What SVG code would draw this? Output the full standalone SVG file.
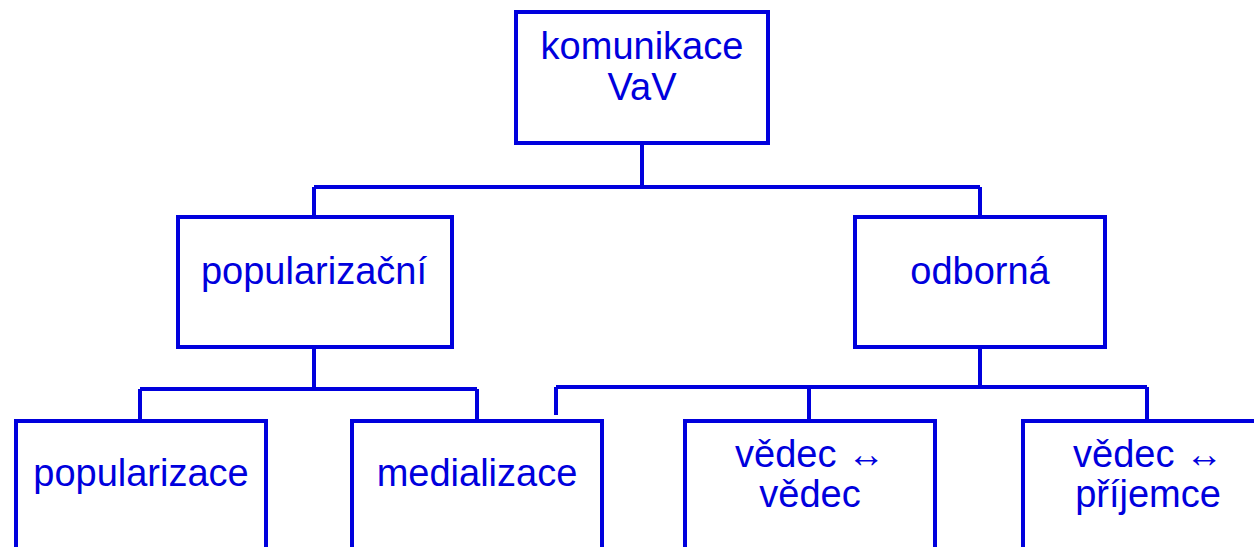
<svg xmlns="http://www.w3.org/2000/svg" width="1254" height="547" viewBox="0 0 1254 547">
<style>
.box{fill:#ffffff;stroke:#0000dd;stroke-width:4}
.ln{fill:none;stroke:#0000dd;stroke-width:4}
text{font-family:"Liberation Sans",Arial,sans-serif;font-size:38px;fill:#0000dd;text-anchor:middle}
</style>
<rect width="1254" height="547" fill="#ffffff"/>
<g id="connectors">
<path class="ln" d="M642 143V187M314 187H980M314 187V217M980 187V217"/>
<path class="ln" d="M314 347V389M140 389H477M140 389V421M477 389V421"/>
<path class="ln" d="M980 347V387M556 387H1147M556 387V415M809 387V421M1147 387V421"/>
</g>
<g id="n-root"><rect class="box" x="516" y="12" width="252" height="131"/><text x="642" y="59">komunikace</text><text x="642" y="100">VaV</text></g>
<g id="n-pop"><rect class="box" x="178" y="217" width="274" height="130"/><text x="314" y="284">popularizační</text></g>
<g id="n-odb"><rect class="box" x="855" y="217" width="250" height="130"/><text x="980" y="284">odborná</text></g>
<g id="n-popularizace"><rect class="box" x="16" y="421" width="250" height="150"/><text x="141" y="486">popularizace</text></g>
<g id="n-medializace"><rect class="box" x="352" y="421" width="250" height="150"/><text x="477" y="486">medializace</text></g>
<g id="n-vv"><rect class="box" x="685" y="421" width="250" height="150"/><text x="810" y="467">vědec ↔</text><text x="810" y="507">vědec</text></g>
<g id="n-vp"><rect class="box" x="1023" y="421" width="250" height="150"/><text x="1148" y="467">vědec ↔</text><text x="1148" y="507">příjemce</text></g>
</svg>
